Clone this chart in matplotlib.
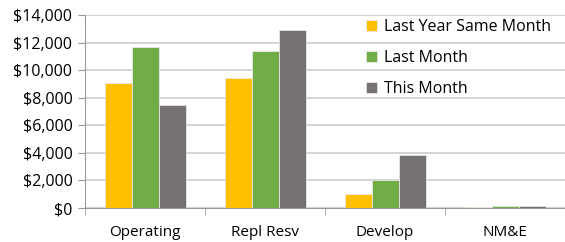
import numpy as np
import matplotlib
matplotlib.use("Agg")
import matplotlib.pyplot as plt
from matplotlib.ticker import FuncFormatter

categories = ["Operating", "Repl Resv", "Develop", "NM&E"]
last_year_same_month = [9100, 9400, 1000, 80]
last_month = [11650, 11400, 2050, 120]
this_month = [7450, 12900, 3850, 140]

plt.rcParams['font.family'] = ['Open Sans', 'DejaVu Sans']

fig = plt.figure(figsize=(5.65, 2.42), dpi=100)
ax = fig.add_axes([85/565, 1-208/242, 480/565, 193/242])

x = np.arange(len(categories))
w = 0.225
series = [("Last Year Same Month", last_year_same_month, "#FFC000"),
          ("Last Month", last_month, "#70AD47"),
          ("This Month", this_month, "#767171")]
for i, (name, vals, col) in enumerate(series):
    ax.bar(x + (i - 1) * w, vals, w, color=col, label=name, edgecolor="#e8e8e8", linewidth=0.6, zorder=3)

ax.set_xlim(-0.5, 3.5)
ax.set_ylim(0, 14000)
ax.set_yticks(range(0, 14001, 2000))
ax.yaxis.set_major_formatter(FuncFormatter(lambda v, p: "${:,.0f}".format(v)))
ax.grid(axis="y", color="#d0d0d0", linewidth=1.3, zorder=0)
ax.set_xticks(x)
ax.set_xticklabels(categories)
ax.set_xticks(np.arange(-0.5, 3.6, 1), minor=True)
ax.tick_params(axis="x", which="major", length=0, pad=12, labelsize=11)
ax.tick_params(axis="x", which="minor", length=5, color="#999999")
ax.tick_params(axis="y", length=5, color="#999999", labelsize=11.5, pad=4)
for s in ["top", "right"]:
    ax.spines[s].set_visible(False)
ax.spines["left"].set_color("#999999")
ax.spines["bottom"].set_color("#999999")

ax.legend(loc="upper left", bbox_to_anchor=(0.555, 1.053), frameon=False, fontsize=11.5,
          handlelength=0.7, handleheight=0.7, handletextpad=0.45, labelspacing=0.95)

fig.savefig("out.png", dpi=100)
